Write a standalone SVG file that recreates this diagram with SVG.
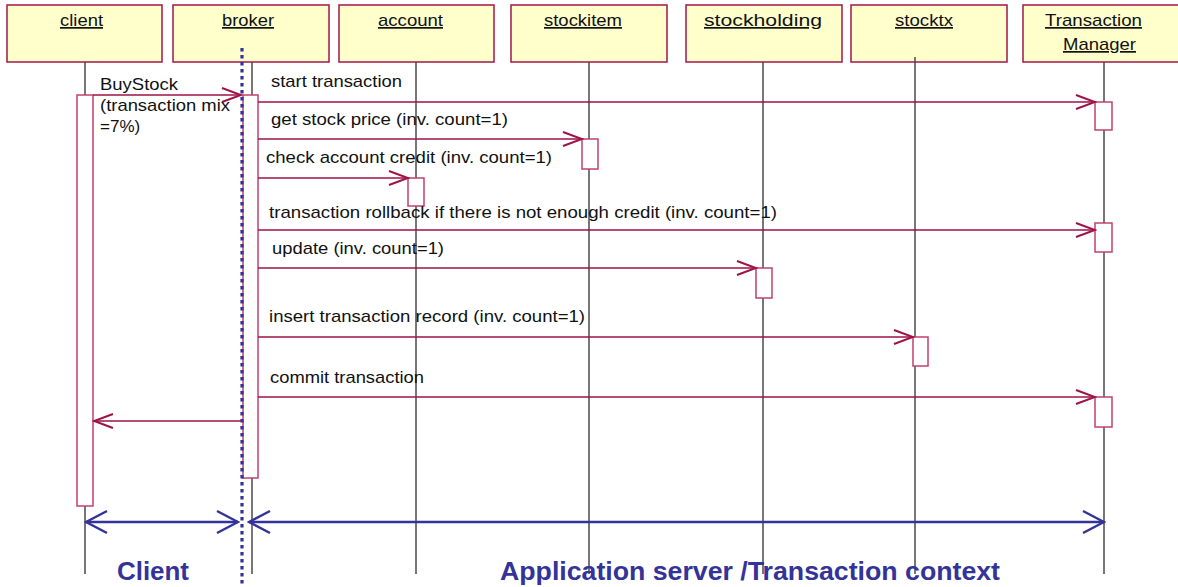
<svg xmlns="http://www.w3.org/2000/svg" width="1178" height="587" viewBox="0 0 1178 587">
<style>
.box{fill:#FFFFCC;stroke:#A3164A;stroke-width:1.5}
.lbl{font-family:"Liberation Sans",Arial,sans-serif;font-size:17px;fill:#111;text-decoration:underline}
.msgt{font-family:"Liberation Sans",Arial,sans-serif;font-size:17px;fill:#111}
.life{stroke:#4a4a4a;stroke-width:1.5;fill:none}
.act{fill:#fff;stroke:#C0406E;stroke-width:1.5}
.msg{stroke:#9E1246;stroke-width:1.3;fill:none;marker-end:url(#ah)}
.blue{stroke:#333399;stroke-width:2.5;fill:none;marker-start:url(#bs);marker-end:url(#be)}
.big{font-family:"Liberation Sans",Arial,sans-serif;font-weight:bold;font-size:25px;fill:#333399}
</style>
<defs>
<marker id="ah" markerUnits="userSpaceOnUse" viewBox="-22 -10 24 20" refX="0" refY="0" markerWidth="24" markerHeight="20" orient="auto">
<path d="M-19,-7 L0,0 L-19,7" fill="none" stroke="#9E1246" stroke-width="2"/>
</marker>
<marker id="be" markerUnits="userSpaceOnUse" viewBox="-24 -13 26 26" refX="0" refY="0" markerWidth="26" markerHeight="26" orient="auto">
<path d="M-21,-11 L0,0 L-21,11" fill="none" stroke="#333399" stroke-width="2.5"/>
</marker>
<marker id="bs" markerUnits="userSpaceOnUse" viewBox="-2 -13 26 26" refX="0" refY="0" markerWidth="26" markerHeight="26" orient="auto">
<path d="M21,-11 L0,0 L21,11" fill="none" stroke="#333399" stroke-width="2.5"/>
</marker>
</defs>
<rect width="1178" height="587" fill="#fff"/>

<g id="node-client">
<rect class="box" x="7" y="5" width="155" height="57"/>
<line class="life" x1="85" y1="62" x2="85" y2="574"/>
<rect class="act" x="77" y="95" width="16" height="411"/>
<text class="lbl" x="60" y="26" textLength="43" lengthAdjust="spacingAndGlyphs">client</text>
</g>
<g id="node-broker">
<rect class="box" x="173" y="5" width="156" height="57"/>
<line class="life" x1="252" y1="62" x2="252" y2="574"/>
<rect class="act" x="243" y="95" width="15" height="383"/>
<text class="lbl" x="222" y="26" textLength="52" lengthAdjust="spacingAndGlyphs">broker</text>
</g>
<g id="node-account">
<rect class="box" x="339" y="5" width="155" height="57"/>
<line class="life" x1="416" y1="62" x2="416" y2="574"/>
<rect class="act" x="408" y="178" width="16" height="28"/>
<text class="lbl" x="378" y="26" textLength="65" lengthAdjust="spacingAndGlyphs">account</text>
</g>
<g id="node-stockitem">
<rect class="box" x="511" y="5" width="156" height="57"/>
<line class="life" x1="589" y1="62" x2="589" y2="574"/>
<rect class="act" x="582" y="139" width="16" height="30"/>
<text class="lbl" x="544" y="26" textLength="78" lengthAdjust="spacingAndGlyphs">stockitem</text>
</g>
<g id="node-stockholding">
<rect class="box" x="686" y="5" width="156" height="57"/>
<line class="life" x1="763" y1="62" x2="763" y2="574"/>
<rect class="act" x="756" y="268" width="16" height="30"/>
<text class="lbl" x="704" y="26" textLength="118" lengthAdjust="spacingAndGlyphs">stockholding</text>
</g>
<g id="node-stocktx">
<rect class="box" x="851" y="5" width="156" height="57"/>
<line class="life" x1="915" y1="57" x2="915" y2="574"/>
<rect class="act" x="913" y="337" width="15" height="29"/>
<text class="lbl" x="895" y="26" textLength="58" lengthAdjust="spacingAndGlyphs">stocktx</text>
</g>
<g id="node-tm">
<rect class="box" x="1023" y="5" width="160" height="57"/>
<line class="life" x1="1104" y1="62" x2="1104" y2="574"/>
<rect class="act" x="1095" y="102" width="17" height="28"/>
<rect class="act" x="1095" y="223" width="17" height="29"/>
<rect class="act" x="1095" y="397" width="17" height="30"/>
<text class="lbl" x="1045" y="26" textLength="97" lengthAdjust="spacingAndGlyphs">Transaction</text>
<text class="lbl" x="1063" y="50" textLength="73" lengthAdjust="spacingAndGlyphs">Manager</text>
</g>

<g id="boundary">
<line x1="242" y1="48" x2="242" y2="587" stroke="#333399" stroke-width="3.2" stroke-dasharray="3.5 3.5"/>
</g>

<g id="connectors">
<line class="msg" x1="93" y1="95" x2="241" y2="95"/>
<line class="msg" x1="258" y1="102" x2="1095" y2="102"/>
<line class="msg" x1="258" y1="139" x2="582" y2="139"/>
<line class="msg" x1="258" y1="178" x2="408" y2="178"/>
<line class="msg" x1="258" y1="230" x2="1095" y2="230"/>
<line class="msg" x1="258" y1="268" x2="756" y2="268"/>
<line class="msg" x1="258" y1="337" x2="913" y2="337"/>
<line class="msg" x1="258" y1="397" x2="1095" y2="397"/>
<line class="msg" x1="242" y1="421" x2="94" y2="421"/>
<line class="blue" x1="86" y1="522" x2="238" y2="522"/>
<line class="blue" x1="249" y1="522" x2="1104" y2="522"/>
</g>

<g id="labels">
<text class="msgt" x="100" y="90" textLength="78" lengthAdjust="spacingAndGlyphs">BuyStock</text>
<text class="msgt" x="100" y="111" textLength="130" lengthAdjust="spacingAndGlyphs">(transaction mix</text>
<text class="msgt" x="100" y="132">=7%)</text>
<text class="msgt" x="271" y="87" textLength="131" lengthAdjust="spacingAndGlyphs">start transaction</text>
<text class="msgt" x="271" y="125" textLength="237" lengthAdjust="spacingAndGlyphs">get stock price (inv. count=1)</text>
<text class="msgt" x="266" y="163" textLength="286" lengthAdjust="spacingAndGlyphs">check account credit (inv. count=1)</text>
<text class="msgt" x="269" y="218" textLength="508" lengthAdjust="spacingAndGlyphs">transaction rollback if there is not enough credit (inv. count=1)</text>
<text class="msgt" x="272" y="254" textLength="172" lengthAdjust="spacingAndGlyphs">update (inv. count=1)</text>
<text class="msgt" x="269" y="322" textLength="316" lengthAdjust="spacingAndGlyphs">insert transaction record (inv. count=1)</text>
<text class="msgt" x="270" y="383" textLength="154" lengthAdjust="spacingAndGlyphs">commit transaction</text>
<text class="big" x="117" y="580" textLength="72" lengthAdjust="spacingAndGlyphs">Client</text>
<text class="big" x="500" y="580" textLength="500" lengthAdjust="spacingAndGlyphs">Application server /Transaction context</text>
</g>
</svg>
